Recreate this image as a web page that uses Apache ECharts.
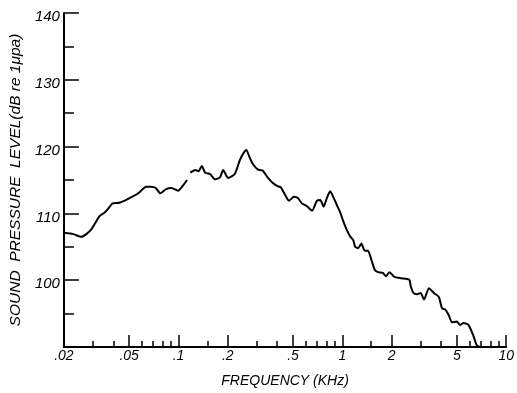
<!DOCTYPE html>
<html>
<head>
<meta charset="utf-8">
<title>Sound pressure level spectrum</title>
<script src="https://cdn.jsdelivr.net/npm/echarts@6/dist/echarts.min.js"></script>
<style>
  html, body { margin: 0; padding: 0; background: #fff; }
  #chart { width: 517px; height: 393px; }
</style>
</head>
<body>
<div id="chart"></div>
<script>
// Spectrum: frequency in kHz, level in dB re 1 µPa (null = break in the trace)
const freqKHz = [
  0.020, 0.0228, 0.0256, 0.0274, 0.0294, 0.0308, 0.0330, 0.0353, 0.0370, 0.0396,
  0.0435, 0.0477, 0.0523, 0.0574, 0.0635, 0.0678, 0.0727, 0.0774, 0.0835, 0.0907,
  0.0993, 0.1076, 0.1128, 0.115,
  0.1181, 0.1266, 0.1325, 0.1389, 0.1454, 0.1559, 0.1671, 0.1791, 0.1875, 0.2009,
  0.2205, 0.2363, 0.2474, 0.2594, 0.2715, 0.2842, 0.3046, 0.3265, 0.3499, 0.3751,
  0.4020, 0.4214, 0.4516, 0.4728, 0.5068, 0.5357, 0.5662, 0.6069, 0.6533, 0.700,
  0.7338, 0.7682, 0.8042, 0.8431, 0.8828, 0.9241, 0.9685, 1.014, 1.061, 1.113,
  1.165, 1.198, 1.249, 1.307, 1.370, 1.434, 1.502, 1.574, 1.648, 1.766,
  1.849, 1.938, 2.077, 2.276, 2.557, 2.615, 2.714, 2.870, 3.004, 3.149,
  3.376, 3.618, 3.878, 4.059, 4.250, 4.455, 4.664, 4.999, 5.233, 5.485,
  5.879, 6.301, 6.597, 6.877
];
const levelDb = [
  107.1, 106.9, 106.5, 106.9, 107.6, 108.4, 109.6, 110.1, 110.6, 111.5,
  111.6, 112.0, 112.5, 113.1, 114.0, 114.0, 113.8, 113.0, 113.6, 113.8,
  113.4, 114.3, 115.0, null,
  116.1, 116.5, 116.3, 117.1, 116.1, 115.9, 115.1, 115.4, 116.5, 115.3,
  115.9, 117.9, 118.9, 119.5, 118.4, 117.4, 116.6, 116.4, 115.4, 114.6,
  114.1, 113.9, 112.6, 111.9, 112.5, 112.3, 111.5, 111.1, 110.4, 111.9,
  112.0, 111.0, 112.3, 113.3, 112.4, 111.3, 110.2, 108.8, 107.6, 106.6,
  106.0, 105.0, 104.8, 105.5, 104.4, 104.4, 103.1, 101.6, 101.2, 101.1,
  100.6, 101.2, 100.5, 100.3, 100.1, 99.1, 98.1, 97.9, 98.1, 97.1,
  98.8, 98.1, 97.5, 95.8, 95.6, 94.8, 93.7, 93.8, 93.3, 93.6,
  93.3, 91.7, 90.3, 90.0
];

// Frequency axis: labelled steps and the finer unlabelled marks
const xMajorTicks = [0.02, 0.05, 0.1, 0.2, 0.5, 1, 2, 5, 10];
const xMajorLabels = ['.02', '.05', '.1', '.2', '.5', '1', '2', '5', '10'];
const xMinorTicks = [0.03, 0.04, 0.06, 0.07, 0.08, 0.09, 0.15, 0.3, 0.4, 0.6, 0.7, 0.8, 0.9,
                     1.5, 3, 4, 6, 7, 8, 9];

// Level axis
const yLabelValues = [100, 110, 120, 130, 140];

const FONT = '"Liberation Sans", Arial, sans-serif';
const ink = '#000';

const seriesData = freqKHz.map((f, i) => [f, levelDb[i] === null ? '-' : levelDb[i]]);

function xLabel(v) {
  for (let i = 0; i < xMajorTicks.length; i++) {
    if (Math.abs(xMajorTicks[i] - v) < 1e-6 * Math.max(1, v)) return xMajorLabels[i];
  }
  return '';
}

const chart = echarts.init(document.getElementById('chart'), null, { renderer: 'canvas' });

chart.setOption({
  backgroundColor: '#fff',
  animation: false,
  grid: { left: 62, right: 7, top: 13, bottom: 46, containLabel: false },
  xAxis: [
    {
      type: 'log',
      logBase: 10,
      min: 0.02,
      max: 10,
      position: 'bottom',
      name: 'FREQUENCY (KHz)',
      nameLocation: 'middle',
      nameGap: 27,
      nameTextStyle: { fontFamily: FONT, fontStyle: 'italic', fontSize: 14, color: ink },
      axisLine: { show: true, lineStyle: { color: ink, width: 2 } },
      axisTick: {
        show: true, inside: true, length: 12,
        customValues: xMajorTicks,
        lineStyle: { color: ink, width: 1.5 }
      },
      axisLabel: {
        show: true, margin: 2,
        customValues: xMajorTicks,
        formatter: xLabel,
        fontFamily: FONT, fontStyle: 'italic', fontSize: 14, color: ink
      },
      splitLine: { show: false },
      minorTick: { show: false },
      minorSplitLine: { show: false }
    },
    {
      type: 'log',
      logBase: 10,
      min: 0.02,
      max: 10,
      position: 'bottom',
      axisLine: { show: false },
      axisTick: {
        show: true, inside: true, length: 6,
        customValues: xMinorTicks,
        lineStyle: { color: ink, width: 1.5 }
      },
      axisLabel: { show: false },
      splitLine: { show: false }
    }
  ],
  yAxis: {
    type: 'value',
    min: 90,
    max: 140,
    interval: 10,
    name: 'SOUND  PRESSURE  LEVEL(dB re 1\u03bcpa)',
    nameLocation: 'middle',
    nameGap: 34,
    nameRotate: 90,
    nameTextStyle: { fontFamily: FONT, fontStyle: 'italic', fontSize: 15.5, color: ink },
    axisLine: { show: true, lineStyle: { color: ink, width: 2 } },
    axisTick: { show: true, inside: true, length: 15, lineStyle: { color: ink, width: 1.5 } },
    minorTick: { show: true, splitNumber: 2, length: 10, lineStyle: { color: ink, width: 1.5 } },
    axisLabel: {
      show: true, margin: 4,
      customValues: yLabelValues,
      verticalAlign: 'top',
      lineHeight: 8,
      fontFamily: FONT, fontStyle: 'italic', fontSize: 15, color: ink
    },
    splitLine: { show: false },
    minorSplitLine: { show: false }
  },
  series: [
    {
      type: 'line',
      xAxisIndex: 0,
      data: seriesData,
      showSymbol: false,
      symbol: 'none',
      smooth: 0.2,
      connectNulls: false,
      lineStyle: { color: ink, width: 2 },
      silent: true
    }
  ]
});
</script>
</body>
</html>
